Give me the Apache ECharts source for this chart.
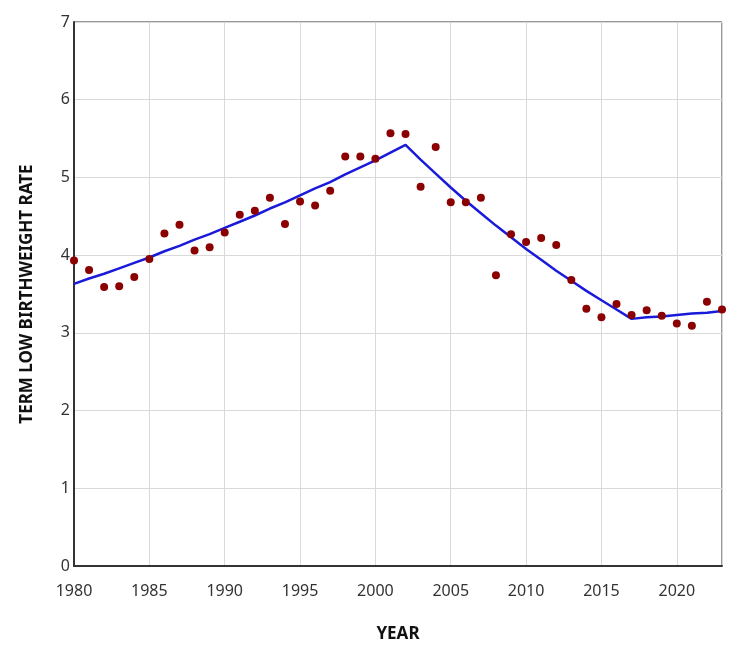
<!DOCTYPE html>
<html>
<head>
<meta charset="utf-8">
<script src="https://cdn.jsdelivr.net/npm/echarts@6/dist/echarts.min.js"></script>
<style>
  html, body { margin: 0; padding: 0; background: #fff; }
  #chart { width: 750px; height: 656px; }
</style>
</head>
<body>
<div id="chart"></div>
<script>
// observed rates, one per year 1980..2023
const years = [1980, 1981, 1982, 1983, 1984, 1985, 1986, 1987, 1988, 1989,
  1990, 1991, 1992, 1993, 1994, 1995, 1996, 1997, 1998, 1999,
  2000, 2001, 2002, 2003, 2004, 2005, 2006, 2007, 2008, 2009,
  2010, 2011, 2012, 2013, 2014, 2015, 2016, 2017, 2018, 2019,
  2020, 2021, 2022, 2023]
const observed = [3.93, 3.81, 3.59, 3.60, 3.72, 3.95, 4.28, 4.39, 4.06, 4.10,
  4.29, 4.52, 4.57, 4.74, 4.40, 4.69, 4.64, 4.83, 5.27, 5.27,
  5.24, 5.57, 5.56, 4.88, 5.39, 4.68, 4.68, 4.74, 3.74, 4.27,
  4.17, 4.22, 4.13, 3.68, 3.31, 3.20, 3.37, 3.23, 3.29, 3.22,
  3.12, 3.09, 3.40, 3.30]
// fitted trend
const trend = [3.63, 3.70, 3.76, 3.83, 3.90, 3.97, 4.05, 4.12, 4.20, 4.27,
  4.35, 4.43, 4.51, 4.60, 4.68, 4.77, 4.86, 4.94, 5.04, 5.13,
  5.22, 5.32, 5.42, 5.23, 5.05, 4.87, 4.70, 4.54, 4.38, 4.23,
  4.08, 3.94, 3.80, 3.67, 3.54, 3.42, 3.30, 3.18, 3.20, 3.21,
  3.23, 3.25, 3.26, 3.28]

const chart = echarts.init(document.getElementById('chart'))
const font = '"Noto Sans", "Open Sans", sans-serif'

chart.setOption({
  animation: false,
  grid: {
    left: 74, right: 28, top: 22, bottom: 90,
    show: true, borderColor: '#333', borderWidth: 1
  },
  xAxis: {
    type: 'value', min: 1980, max: 2023, interval: 5,
    name: 'YEAR', nameLocation: 'center', nameGap: 60,
    nameTextStyle: { fontFamily: font, fontWeight: 'bold', fontSize: 17, color: '#111' },
    axisLine: { show: true, lineStyle: { color: '#333', width: 2 } },
    axisTick: { show: false },
    axisLabel: {
      fontFamily: font, fontSize: 16, color: '#333', margin: 17, showMaxLabel: false,
      formatter: v => String(v)
    },
    splitLine: { show: true, lineStyle: { color: '#d9d9d9', width: 1 } }
  },
  yAxis: {
    type: 'value', min: 0, max: 7, interval: 1,
    name: 'TERM LOW BIRTHWEIGHT RATE', nameLocation: 'center', nameGap: 38,
    nameTextStyle: { fontFamily: font, fontWeight: 'bold', fontSize: 17, color: '#111' },
    axisLine: { show: true, lineStyle: { color: '#333', width: 2 } },
    axisTick: { show: false },
    axisLabel: { fontFamily: font, fontSize: 16, color: '#333', margin: 4 },
    splitLine: { show: true, lineStyle: { color: '#d9d9d9', width: 1 } }
  },
  series: [
    {
      type: 'line', name: 'trend',
      data: years.map((y, i) => [y, trend[i]]),
      showSymbol: false,
      lineStyle: { color: '#1a1adb', width: 2.5 },
      z: 2
    },
    {
      type: 'scatter', name: 'observed',
      data: years.map((y, i) => [y, observed[i]]),
      symbolSize: 8,
      itemStyle: { color: '#8b0000', opacity: 1 },
      z: 3
    }
  ]
})
</script>
</body>
</html>
